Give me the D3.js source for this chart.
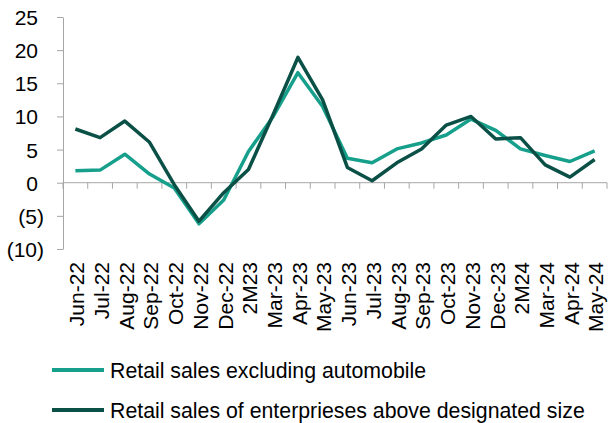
<!DOCTYPE html>
<html>
<head>
<meta charset="utf-8">
<script src="https://cdn.jsdelivr.net/npm/d3@7"></script>
<style>
  html, body { margin: 0; padding: 0; background: #fff; }
  svg { display: block; }
  text { font-family: "Liberation Sans", Arial, sans-serif; fill: #000; }
</style>
</head>
<body>
<svg id="chart" width="608" height="423"></svg>
<script>
// Monthly periods (year-on-year growth, %)
const months = ["Jun-22","Jul-22","Aug-22","Sep-22","Oct-22","Nov-22","Dec-22","2M23",
  "Mar-23","Apr-23","May-23","Jun-23","Jul-23","Aug-23","Sep-23","Oct-23","Nov-23",
  "Dec-23","2M24","Mar-24","Apr-24","May-24"];

const exAuto = [1.8, 1.9, 4.3, 1.3, -0.8, -6.2, -2.6, 4.7, 10.0, 16.6, 11.5, 3.7, 3.0,
  5.1, 6.0, 7.2, 9.6, 7.9, 5.1, 4.1, 3.2, 4.8];

const aboveSize = [8.1, 6.8, 9.3, 6.1, -0.3, -5.8, -1.5, 2.0, 10.3, 18.9, 12.5, 2.3, 0.3,
  3.0, 5.1, 8.7, 10.0, 6.6, 6.8, 2.7, 0.85, 3.5];

const yTicks = [-10, -5, 0, 5, 10, 15, 20, 25];

const seriesNames = ["Retail sales excluding automobile",
  "Retail sales of enterprieses above designated size"];
const seriesColors = ["#16a08b", "#0b5046"];

const svg = d3.select("#chart");
const plotLeft = 63, plotRight = 607, plotTop = 17, plotBottom = 249;

const x = d3.scaleBand().domain(months).range([plotLeft, plotRight]).padding(0);
const y = d3.scaleLinear().domain([-10, 25]).range([plotBottom, plotTop]);
const axisColor = "#a6a6a6";

// Y axis
const yAxis = d3.axisLeft(y).tickValues(yTicks).tickSize(6).tickSizeOuter(0)
  .tickFormat(d => d < 0 ? `(${-d})` : `${d}`);
const gy = svg.append("g").attr("transform", `translate(${plotLeft},0)`).call(yAxis);
gy.select(".domain").attr("stroke", axisColor);
gy.selectAll(".tick line").attr("stroke", axisColor);
gy.selectAll(".tick text")
  .attr("font-size", 21)
  .attr("font-family", "Liberation Sans, Arial, sans-serif")
  .attr("fill", "#000")
  .attr("x", d => d < 0 ? -19 : -25)
  .attr("dy", "0.36em");

// X axis along zero, ticks at category boundaries
const gx = svg.append("g").attr("transform", `translate(0,${y(0)})`);
gx.append("line").attr("x1", plotLeft).attr("x2", plotRight).attr("stroke", axisColor);
gx.selectAll("line.tk").data(months.concat(["end"])).join("line").attr("class", "tk")
  .attr("x1", (d, i) => plotLeft + i * x.bandwidth())
  .attr("x2", (d, i) => plotLeft + i * x.bandwidth())
  .attr("y1", 0).attr("y2", 6).attr("stroke", axisColor);

// Category labels, rotated
svg.append("g").selectAll("text").data(months).join("text")
  .attr("transform", d => `translate(${x(d) + x.bandwidth() / 2},262) rotate(-90)`)
  .attr("text-anchor", "end")
  .attr("dy", "0.42em")
  .attr("font-size", 21)
  .text(d => d);

// Lines
const line = d3.line()
  .x((d, i) => x(months[i]) + x.bandwidth() / 2)
  .y(d => y(d));

[exAuto, aboveSize].forEach((vals, k) => {
  svg.append("path").datum(vals)
    .attr("d", line)
    .attr("fill", "none")
    .attr("stroke", seriesColors[k])
    .attr("stroke-width", 3.5)
    .attr("stroke-linejoin", "round");
});

// Legend
const lg = svg.append("g");
seriesNames.forEach((name, k) => {
  const yy = 370 + k * 40;
  lg.append("line").attr("x1", 52).attr("x2", 104).attr("y1", yy).attr("y2", yy)
    .attr("stroke", seriesColors[k]).attr("stroke-width", 4);
  lg.append("text").attr("x", 110).attr("y", yy).attr("dy", "0.36em")
    .attr("font-size", 21.3).text(name);
});
</script>
</body>
</html>
